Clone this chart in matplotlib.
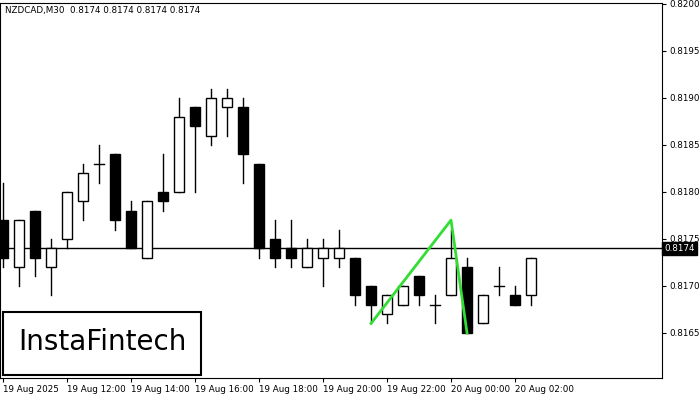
import matplotlib
matplotlib.use("Agg")
import matplotlib.pyplot as plt
from matplotlib.patches import Rectangle

# OHLC values (M30 candles)
opens = [.8177, .8172, .8178, .8172, .8175, .8179, .8183, .8184, .8178, .8173,
         .8180, .8180, .8189, .8186, .8189, .8189, .8183, .8175, .8174, .8172,
         .8173, .8173, .8173, .8170, .8167, .8168, .8171, .8168, .8169, .8172,
         .8166, .8170, .8169, .8169]
highs = [.8181, .8177, .8178, .8175, .8180, .8183, .8185, .8184, .8179, .8179,
         .8184, .8190, .8189, .8191, .8191, .8190, .8183, .8177, .8177, .8175,
         .8175, .8176, .8173, .8170, .8169, .8170, .8171, .8169, .8176, .8173,
         .8169, .8172, .8170, .8173]
lows = [.8172, .8170, .8171, .8169, .8174, .8177, .8181, .8176, .8174, .8173,
        .8178, .8180, .8180, .8185, .8186, .8181, .8173, .8172, .8172, .8172,
        .8170, .8172, .8168, .8166, .8166, .8168, .8168, .8166, .8169, .8165,
        .8166, .8169, .8168, .8168]
closes = [.8173, .8177, .8173, .8174, .8180, .8182, .8183, .8177, .8174, .8179,
          .8179, .8188, .8187, .8190, .8190, .8184, .8174, .8173, .8173, .8174,
          .8174, .8174, .8169, .8168, .8169, .8170, .8169, .8168, .8173, .8165,
          .8169, .8170, .8168, .8173]

pattern_idx = [23, 28, 29]
pattern_price = [.8166, .8177, .8165]

current_price = 0.8174
y_ticks = [0.8165, 0.8170, 0.8175, 0.8180, 0.8185, 0.8190, 0.8195, 0.8200]
x_tick_idx = [0, 4, 8, 12, 16, 20, 24, 28, 32]
x_tick_labels = ["19 Aug 2025", "19 Aug 12:00", "19 Aug 14:00", "19 Aug 16:00",
                 "19 Aug 18:00", "19 Aug 20:00", "19 Aug 22:00", "20 Aug 00:00",
                 "20 Aug 02:00"]

fig = plt.figure(figsize=(7, 4), dpi=100)
ax = fig.add_axes([0, 0.055, 0.946, 0.9375])

w = 0.6
for i, (o, h, l, c) in enumerate(zip(opens, highs, lows, closes)):
    ax.plot([i, i], [l, h], color="black", lw=1, zorder=2)
    bottom = min(o, c)
    height = abs(c - o)
    if height == 0:
        ax.plot([i - w / 2, i + w / 2], [o, o], color="black", lw=1, zorder=3)
        continue
    face = "white" if c > o else "black"
    ax.add_patch(Rectangle((i - w / 2, bottom), w, height, facecolor=face,
                           edgecolor="black", lw=1, zorder=3))

ax.axhline(current_price, color="black", lw=1, zorder=1)
ax.plot(pattern_idx, pattern_price, color="#33dd33", lw=2, zorder=4)

ax.set_xlim(-0.19, 41.2)
ax.set_ylim(0.81602, 0.82001)
ax.yaxis.tick_right()
ax.set_yticks(y_ticks)
ax.set_yticklabels([f"{v:.4f}" for v in y_ticks])
ax.set_xticks(x_tick_idx)
ax.set_xticklabels(x_tick_labels, ha="left")
ax.tick_params(labelsize=6.3, length=3, direction="out", pad=2)
for s in ax.spines.values():
    s.set_linewidth(0.8)

ax.text(1.003, current_price, f"{current_price:.4f}", transform=ax.get_yaxis_transform(),
        fontsize=6.3, color="white", va="center", ha="left",
        bbox=dict(boxstyle="square,pad=0.25", facecolor="black", edgecolor="black"))

fig.text(5 / 700, 1 - 11 / 400, "NZDCAD,M30  0.8174 0.8174 0.8174 0.8174",
         fontsize=6.3, va="center", ha="left")

# logo box
fig.patches.append(Rectangle((3 / 700, 25 / 400), 198 / 700, 63 / 400, transform=fig.transFigure,
                             facecolor="white", edgecolor="black", lw=1.5, zorder=10))
fig.text(102 / 700, 58 / 400, "InstaFintech", fontsize=20, ha="center", va="center", zorder=11)

fig.savefig("out.png", dpi=100)
